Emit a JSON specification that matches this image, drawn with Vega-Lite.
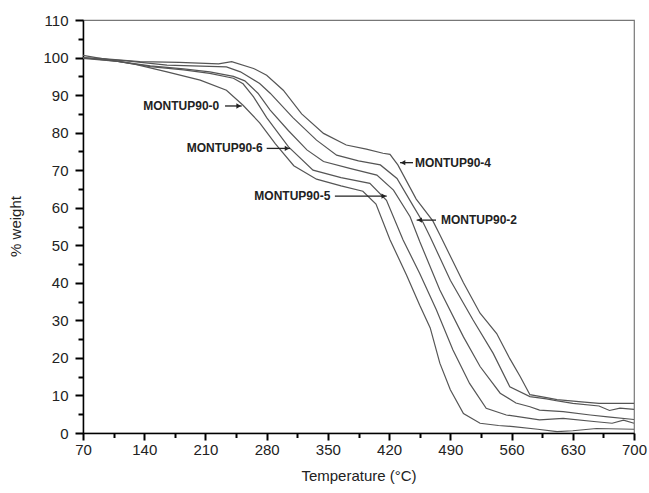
{
  "$schema": "https://vega.github.io/schema/vega-lite/v6.json",
  "width": 551,
  "height": 413,
  "autosize": {"type": "none"},
  "padding": {"left": 83, "top": 20, "right": 15, "bottom": 60},
  "background": "white",
  "config": {
    "view": {"stroke": "#777", "strokeWidth": 1.2},
    "font": "Liberation Sans"
  },
  "datasets": {
    "curves": [
      {"s": "MONTUP90-0", "T": 70, "W": 100.6}, {"s": "MONTUP90-0", "T": 100, "W": 99.4}, {"s": "MONTUP90-0", "T": 130, "W": 98.2}, {"s": "MONTUP90-0", "T": 166, "W": 96.2}, {"s": "MONTUP90-0", "T": 204, "W": 94}, {"s": "MONTUP90-0", "T": 234, "W": 91.3}, {"s": "MONTUP90-0", "T": 253, "W": 87.3}, {"s": "MONTUP90-0", "T": 272, "W": 82.6}, {"s": "MONTUP90-0", "T": 290, "W": 77}, {"s": "MONTUP90-0", "T": 311, "W": 71.2}, {"s": "MONTUP90-0", "T": 337, "W": 67.6}, {"s": "MONTUP90-0", "T": 365, "W": 65.8}, {"s": "MONTUP90-0", "T": 390, "W": 64.4}, {"s": "MONTUP90-0", "T": 405, "W": 61}, {"s": "MONTUP90-0", "T": 421, "W": 51.5}, {"s": "MONTUP90-0", "T": 440, "W": 42}, {"s": "MONTUP90-0", "T": 455, "W": 34}, {"s": "MONTUP90-0", "T": 467, "W": 28}, {"s": "MONTUP90-0", "T": 478, "W": 18.6}, {"s": "MONTUP90-0", "T": 490, "W": 11.5}, {"s": "MONTUP90-0", "T": 505, "W": 5.2}, {"s": "MONTUP90-0", "T": 524, "W": 2.6}, {"s": "MONTUP90-0", "T": 545, "W": 2.0}, {"s": "MONTUP90-0", "T": 562, "W": 1.7}, {"s": "MONTUP90-0", "T": 590, "W": 1.0}, {"s": "MONTUP90-0", "T": 612, "W": 0.35}, {"s": "MONTUP90-0", "T": 630, "W": 0.6}, {"s": "MONTUP90-0", "T": 657, "W": 1.2}, {"s": "MONTUP90-0", "T": 700, "W": 1.0},
      {"s": "MONTUP90-6", "T": 70, "W": 100}, {"s": "MONTUP90-6", "T": 110, "W": 99}, {"s": "MONTUP90-6", "T": 147, "W": 97.6}, {"s": "MONTUP90-6", "T": 185, "W": 96.7}, {"s": "MONTUP90-6", "T": 215, "W": 95.8}, {"s": "MONTUP90-6", "T": 242, "W": 94.5}, {"s": "MONTUP90-6", "T": 253, "W": 93}, {"s": "MONTUP90-6", "T": 265, "W": 89.5}, {"s": "MONTUP90-6", "T": 280, "W": 84}, {"s": "MONTUP90-6", "T": 305, "W": 76.2}, {"s": "MONTUP90-6", "T": 333, "W": 70}, {"s": "MONTUP90-6", "T": 365, "W": 68}, {"s": "MONTUP90-6", "T": 398, "W": 66.5}, {"s": "MONTUP90-6", "T": 417, "W": 62}, {"s": "MONTUP90-6", "T": 436, "W": 51.4}, {"s": "MONTUP90-6", "T": 455, "W": 42.5}, {"s": "MONTUP90-6", "T": 474, "W": 32.8}, {"s": "MONTUP90-6", "T": 493, "W": 22.1}, {"s": "MONTUP90-6", "T": 512, "W": 13.2}, {"s": "MONTUP90-6", "T": 531, "W": 6.6}, {"s": "MONTUP90-6", "T": 554, "W": 4.8}, {"s": "MONTUP90-6", "T": 592, "W": 3.5}, {"s": "MONTUP90-6", "T": 619, "W": 3.9}, {"s": "MONTUP90-6", "T": 657, "W": 3.0}, {"s": "MONTUP90-6", "T": 675, "W": 2.6}, {"s": "MONTUP90-6", "T": 688, "W": 3.4}, {"s": "MONTUP90-6", "T": 700, "W": 2.6},
      {"s": "MONTUP90-5", "T": 70, "W": 99.8}, {"s": "MONTUP90-5", "T": 110, "W": 99}, {"s": "MONTUP90-5", "T": 147, "W": 97.8}, {"s": "MONTUP90-5", "T": 185, "W": 97}, {"s": "MONTUP90-5", "T": 215, "W": 96.2}, {"s": "MONTUP90-5", "T": 242, "W": 95}, {"s": "MONTUP90-5", "T": 255, "W": 93.8}, {"s": "MONTUP90-5", "T": 270, "W": 90.5}, {"s": "MONTUP90-5", "T": 284, "W": 86}, {"s": "MONTUP90-5", "T": 305, "W": 80.5}, {"s": "MONTUP90-5", "T": 326, "W": 75.4}, {"s": "MONTUP90-5", "T": 345, "W": 72.3}, {"s": "MONTUP90-5", "T": 375, "W": 70.5}, {"s": "MONTUP90-5", "T": 406, "W": 68.7}, {"s": "MONTUP90-5", "T": 425, "W": 64.7}, {"s": "MONTUP90-5", "T": 444, "W": 57.6}, {"s": "MONTUP90-5", "T": 455, "W": 51}, {"s": "MONTUP90-5", "T": 478, "W": 38.1}, {"s": "MONTUP90-5", "T": 505, "W": 25.6}, {"s": "MONTUP90-5", "T": 524, "W": 17.7}, {"s": "MONTUP90-5", "T": 547, "W": 10.6}, {"s": "MONTUP90-5", "T": 565, "W": 8}, {"s": "MONTUP90-5", "T": 581, "W": 7.0}, {"s": "MONTUP90-5", "T": 592, "W": 6.1}, {"s": "MONTUP90-5", "T": 619, "W": 5.7}, {"s": "MONTUP90-5", "T": 650, "W": 4.8}, {"s": "MONTUP90-5", "T": 670, "W": 4.3}, {"s": "MONTUP90-5", "T": 700, "W": 3.6},
      {"s": "MONTUP90-2", "T": 70, "W": 100}, {"s": "MONTUP90-2", "T": 120, "W": 99.1}, {"s": "MONTUP90-2", "T": 166, "W": 98}, {"s": "MONTUP90-2", "T": 234, "W": 97.5}, {"s": "MONTUP90-2", "T": 250, "W": 96.2}, {"s": "MONTUP90-2", "T": 272, "W": 93.1}, {"s": "MONTUP90-2", "T": 284, "W": 90.5}, {"s": "MONTUP90-2", "T": 310, "W": 84}, {"s": "MONTUP90-2", "T": 337, "W": 78}, {"s": "MONTUP90-2", "T": 360, "W": 74}, {"s": "MONTUP90-2", "T": 385, "W": 72.5}, {"s": "MONTUP90-2", "T": 410, "W": 71.4}, {"s": "MONTUP90-2", "T": 429, "W": 67.8}, {"s": "MONTUP90-2", "T": 448, "W": 60.3}, {"s": "MONTUP90-2", "T": 459, "W": 56}, {"s": "MONTUP90-2", "T": 467, "W": 52.2}, {"s": "MONTUP90-2", "T": 490, "W": 40.7}, {"s": "MONTUP90-2", "T": 516, "W": 30.1}, {"s": "MONTUP90-2", "T": 539, "W": 21.2}, {"s": "MONTUP90-2", "T": 558, "W": 12.3}, {"s": "MONTUP90-2", "T": 581, "W": 9.7}, {"s": "MONTUP90-2", "T": 600, "W": 9.1}, {"s": "MONTUP90-2", "T": 611, "W": 8.6}, {"s": "MONTUP90-2", "T": 630, "W": 7.9}, {"s": "MONTUP90-2", "T": 660, "W": 7.2}, {"s": "MONTUP90-2", "T": 672, "W": 6.0}, {"s": "MONTUP90-2", "T": 684, "W": 6.6}, {"s": "MONTUP90-2", "T": 700, "W": 6.3},
      {"s": "MONTUP90-4", "T": 70, "W": 99.8}, {"s": "MONTUP90-4", "T": 89, "W": 99.8}, {"s": "MONTUP90-4", "T": 135, "W": 98.9}, {"s": "MONTUP90-4", "T": 180, "W": 98.7}, {"s": "MONTUP90-4", "T": 225, "W": 98.3}, {"s": "MONTUP90-4", "T": 240, "W": 98.9}, {"s": "MONTUP90-4", "T": 265, "W": 97.1}, {"s": "MONTUP90-4", "T": 280, "W": 95.3}, {"s": "MONTUP90-4", "T": 299, "W": 91.3}, {"s": "MONTUP90-4", "T": 320, "W": 85}, {"s": "MONTUP90-4", "T": 345, "W": 79.8}, {"s": "MONTUP90-4", "T": 371, "W": 76.7}, {"s": "MONTUP90-4", "T": 394, "W": 75.6}, {"s": "MONTUP90-4", "T": 413, "W": 74.5}, {"s": "MONTUP90-4", "T": 421, "W": 74.2}, {"s": "MONTUP90-4", "T": 430, "W": 71.4}, {"s": "MONTUP90-4", "T": 451, "W": 62.3}, {"s": "MONTUP90-4", "T": 470, "W": 56.5}, {"s": "MONTUP90-4", "T": 478, "W": 52.8}, {"s": "MONTUP90-4", "T": 505, "W": 40}, {"s": "MONTUP90-4", "T": 524, "W": 31.9}, {"s": "MONTUP90-4", "T": 543, "W": 26.5}, {"s": "MONTUP90-4", "T": 558, "W": 19.8}, {"s": "MONTUP90-4", "T": 570, "W": 15}, {"s": "MONTUP90-4", "T": 581, "W": 10.2}, {"s": "MONTUP90-4", "T": 600, "W": 9.4}, {"s": "MONTUP90-4", "T": 612, "W": 8.9}, {"s": "MONTUP90-4", "T": 640, "W": 8.3}, {"s": "MONTUP90-4", "T": 660, "W": 7.9}, {"s": "MONTUP90-4", "T": 700, "W": 7.9}
    ],
    "arrows": [
      {"T": 232.4, "T2": 251.5, "W": 87.1},
      {"T": 280, "T2": 306.7, "W": 75.8},
      {"T": 358, "T2": 417.3, "W": 63.1},
      {"T": 432.5, "T2": 447.3, "W": 72},
      {"T": 451.5, "T2": 473.6, "W": 56.7}
    ],
    "heads": [
      {"T": 248, "W": 87.1, "dir": "triangle-right"},
      {"T": 303.3, "W": 75.8, "dir": "triangle-right"},
      {"T": 413.9, "W": 63.1, "dir": "triangle-right"},
      {"T": 435.9, "W": 72, "dir": "triangle-left"},
      {"T": 454.9, "W": 56.7, "dir": "triangle-left"}
    ],
    "labels": [
      {"label": "MONTUP90-0", "T": 138.9, "W": 87.1},
      {"label": "MONTUP90-6", "T": 188.6, "W": 75.8},
      {"label": "MONTUP90-5", "T": 265.9, "W": 63.1},
      {"label": "MONTUP90-4", "T": 449.6, "W": 72},
      {"label": "MONTUP90-2", "T": 479.3, "W": 56.7}
    ]
  },
  "resolve": {"axis": {"x": "independent", "y": "independent"}},
  "layer": [
    {
      "data": {"name": "curves"},
      "mark": {"type": "line", "color": "#555", "strokeWidth": 1.2},
      "encoding": {
        "x": {
          "field": "T", "type": "quantitative",
          "scale": {"domain": [70, 700], "nice": false, "zero": false},
          "axis": {
            "orient": "bottom",
            "title": "Temperature (°C)",
            "values": [70, 140, 210, 280, 350, 420, 490, 560, 630, 700],
            "format": "d",
            "gridOpacity": 0,
            "domainColor": "black", "domainWidth": 1.5,
            "tickColor": "black", "tickWidth": 2, "tickSize": 7,
            "labelFontSize": 15, "labelColor": "#222", "labelPadding": 2, "labelFlush": false, "labelOverlap": false,
            "titleFontSize": 15, "titleFontWeight": "normal", "titleColor": "#222", "titlePadding": 11
          }
        },
        "y": {
          "field": "W", "type": "quantitative",
          "scale": {"domain": [0, 110], "nice": false, "zero": false},
          "axis": {
            "orient": "left",
            "title": "% weight",
            "values": [0, 10, 20, 30, 40, 50, 60, 70, 80, 90, 100, 110],
            "gridOpacity": 0,
            "domainColor": "black", "domainWidth": 1.5,
            "tickColor": "black", "tickWidth": 2, "tickSize": 8,
            "labelFontSize": 15, "labelColor": "#222", "labelPadding": 7, "labelOverlap": false,
            "titleFontSize": 15, "titleFontWeight": "normal", "titleColor": "#222",
            "titleX": -60, "titleY": 206
          }
        },
        "detail": {"field": "s", "type": "nominal"}
      }
    },
    {
      "data": {"name": "arrows"},
      "mark": {"type": "rule", "color": "#222", "strokeWidth": 1.3},
      "encoding": {
        "x": {
          "field": "T", "type": "quantitative",
          "axis": {
            "orient": "bottom", "title": null, "labels": false, "domain": false, "gridOpacity": 0,
            "values": [105, 175, 245, 315, 385, 455, 525, 595, 665],
            "tickColor": "black", "tickWidth": 2, "tickSize": 4.5
          }
        },
        "x2": {"field": "T2"},
        "y": {
          "field": "W", "type": "quantitative",
          "axis": {
            "orient": "left", "title": null, "labels": false, "domain": false, "gridOpacity": 0,
            "values": [5, 15, 25, 35, 45, 55, 65, 75, 85, 95, 105],
            "tickColor": "black", "tickWidth": 2, "tickSize": 5
          }
        }
      }
    },
    {
      "data": {"name": "heads"},
      "mark": {"type": "point", "filled": true, "color": "#222", "size": 28, "opacity": 1},
      "encoding": {
        "x": {"field": "T", "type": "quantitative", "axis": null},
        "y": {"field": "W", "type": "quantitative", "axis": null},
        "shape": {"field": "dir", "type": "nominal", "scale": null}
      }
    },
    {
      "data": {"name": "labels"},
      "mark": {"type": "text", "align": "left", "baseline": "middle", "fontWeight": "bold", "fontSize": 12, "color": "#222", "font": "Liberation Sans"},
      "encoding": {
        "x": {"field": "T", "type": "quantitative", "axis": null},
        "y": {"field": "W", "type": "quantitative", "axis": null},
        "text": {"field": "label"}
      }
    }
  ]
}
